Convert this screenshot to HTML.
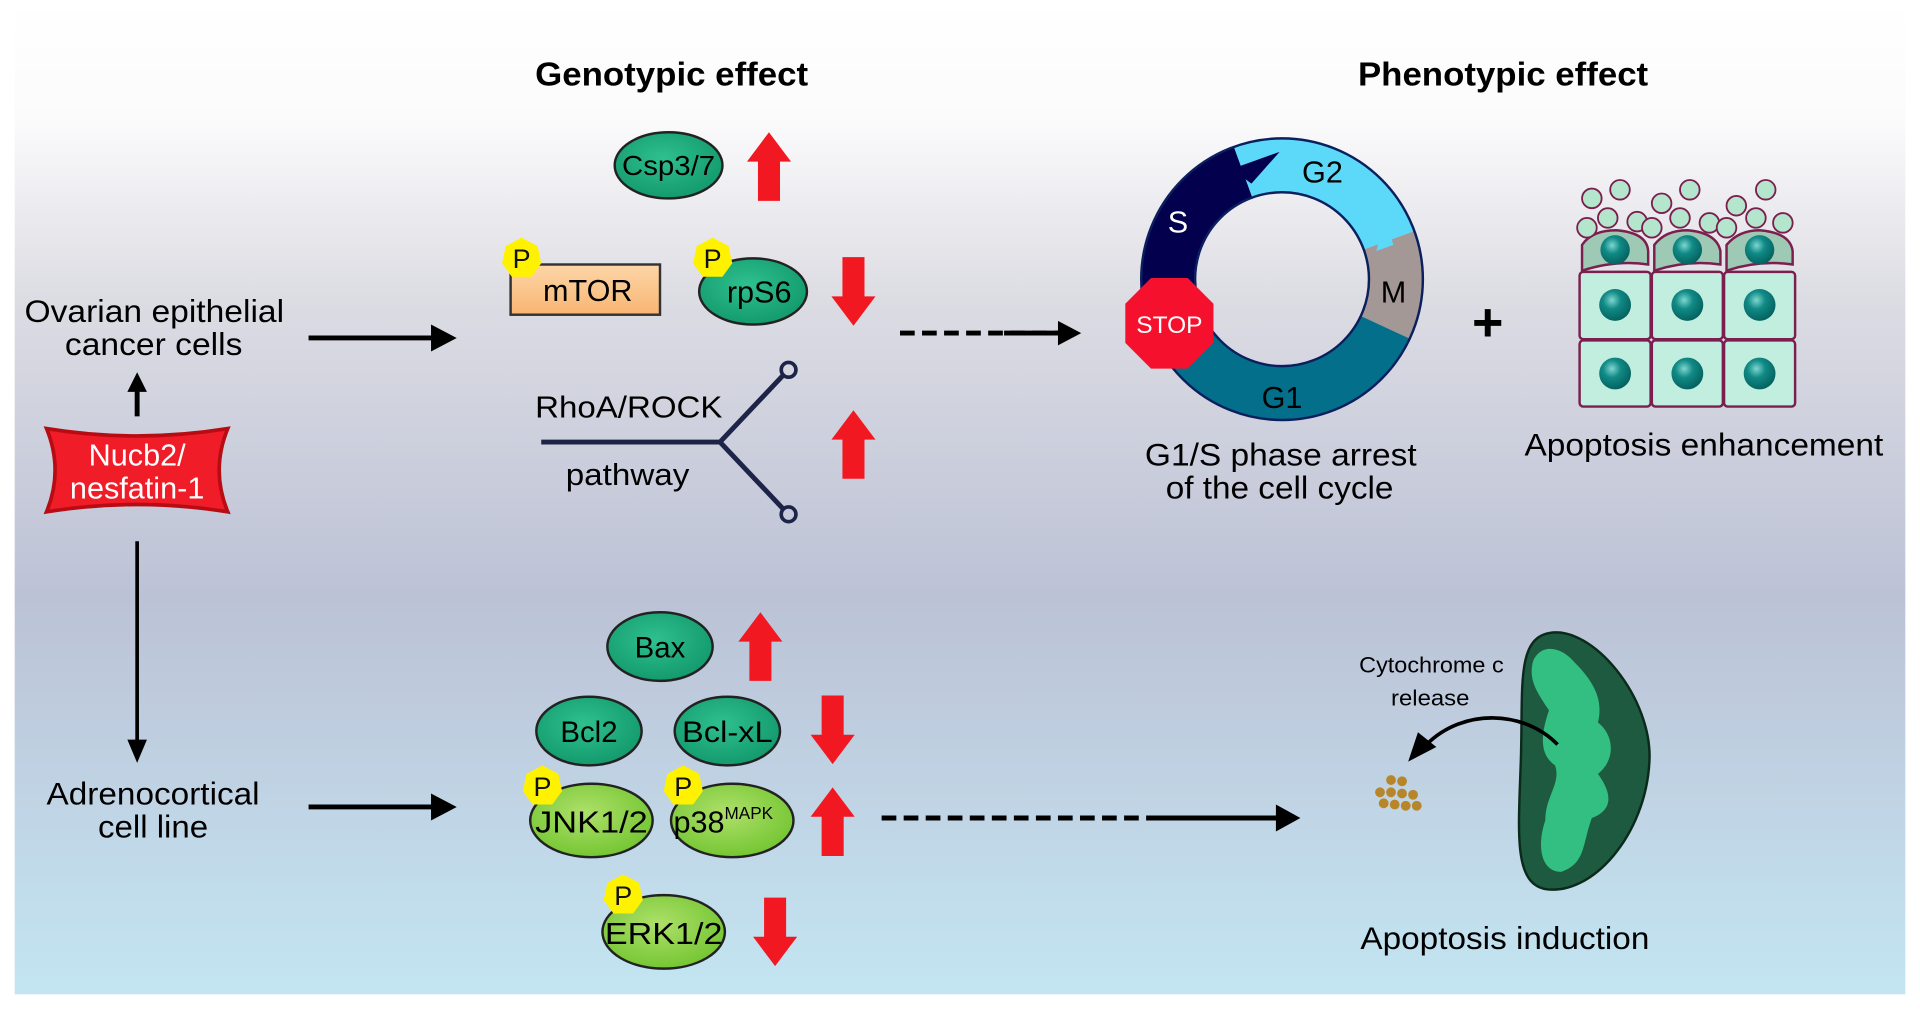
<!DOCTYPE html>
<html><head><meta charset="utf-8"><style>
html,body{margin:0;padding:0;background:#fff;}
svg{display:block;}
text{font-family:"Liberation Sans",sans-serif;}
</style></head><body>
<svg width="1920" height="1011" viewBox="0 0 1568 825.6" preserveAspectRatio="none" xmlns="http://www.w3.org/2000/svg">
<defs>
<linearGradient id="bg" x1="0" y1="0" x2="0" y2="1">
<stop offset="0" stop-color="#ffffff"/>
<stop offset="0.12" stop-color="#fbfbfc"/>
<stop offset="0.3" stop-color="#dcdce3"/>
<stop offset="0.6" stop-color="#bcc2d6"/>
<stop offset="1" stop-color="#c3e5f2"/>
</linearGradient>
<radialGradient id="gr" cx="0.45" cy="0.4" r="0.7"><stop offset="0" stop-color="#2fc08e"/><stop offset="1" stop-color="#0f9468"/></radialGradient>
<radialGradient id="lg" cx="0.45" cy="0.4" r="0.7"><stop offset="0" stop-color="#aee06a"/><stop offset="1" stop-color="#6cc22a"/></radialGradient>
<linearGradient id="or" x1="0" y1="0" x2="0" y2="1"><stop offset="0" stop-color="#fdd6a8"/><stop offset="1" stop-color="#f8b572"/></linearGradient>
<radialGradient id="nuc" cx="0.4" cy="0.35" r="0.7"><stop offset="0" stop-color="#7fd6d0"/><stop offset="0.4" stop-color="#118a86"/><stop offset="1" stop-color="#035e5c"/></radialGradient>
<g id="up"><path d="M0,0 L18,24 L9,24 L9,56 L-9,56 L-9,24 L-18,24 Z" fill="#f21822"/></g>
<g id="dn"><path d="M0,56 L18,32 L9,32 L9,0 L-9,0 L-9,32 L-18,32 Z" fill="#f21822"/></g>
<g id="P"><polygon points="0,-17 13,-10 16,4 8,15 -8,15 -16,4 -13,-10" fill="#fff200"/><text x="0" y="8" font-size="22" text-anchor="middle" fill="#111">P</text></g>
</defs>
<rect x="12" y="0" width="1544" height="812" fill="url(#bg)"/>

<text x="437" y="70" font-size="27" font-weight="bold" textLength="223" lengthAdjust="spacingAndGlyphs">Genotypic effect</text>
<text x="1109" y="70" font-size="27" font-weight="bold" textLength="237" lengthAdjust="spacingAndGlyphs">Phenotypic effect</text>

<!-- left side -->
<text x="20" y="263" font-size="26" textLength="212" lengthAdjust="spacingAndGlyphs">Ovarian epithelial</text>
<text x="53" y="290" font-size="26" textLength="145" lengthAdjust="spacingAndGlyphs">cancer cells</text>
<line x1="112" y1="340" x2="112" y2="318" stroke="#000" stroke-width="4"/>
<path d="M112,304 L120,320 L104,320 Z"/>
<path d="M38,350 Q112,362 186,350 Q172,384 186,418 Q112,406 38,418 Q52,384 38,350 Z" fill="#f01c28" stroke="#b80c14" stroke-width="3"/>
<text x="112" y="380" font-size="25" fill="#fff" text-anchor="middle">Nucb2/</text>
<text x="112" y="407" font-size="25" fill="#fff" text-anchor="middle">nesfatin-1</text>
<line x1="112" y1="442" x2="112" y2="605" stroke="#000" stroke-width="3"/>
<path d="M112,623 L104,604 L120,604 Z"/>
<text x="38" y="657" font-size="26" textLength="174" lengthAdjust="spacingAndGlyphs">Adrenocortical</text>
<text x="80" y="684" font-size="26" textLength="90" lengthAdjust="spacingAndGlyphs">cell line</text>

<line x1="252" y1="276" x2="355" y2="276" stroke="#000" stroke-width="4"/>
<path d="M373,276 L352,265 L352,287 Z"/>
<line x1="252" y1="659" x2="355" y2="659" stroke="#000" stroke-width="4"/>
<path d="M373,659 L352,648 L352,670 Z"/>

<!-- top genotypic -->
<ellipse cx="546" cy="135" rx="44" ry="27" fill="url(#gr)" stroke="#222" stroke-width="2"/>
<text x="546" y="143" font-size="23" text-anchor="middle" textLength="76" lengthAdjust="spacingAndGlyphs">Csp3/7</text>
<use href="#up" x="628" y="108"/>

<rect x="417" y="216" width="122" height="41" fill="url(#or)" stroke="#333" stroke-width="2"/>
<text x="480" y="246" font-size="25" text-anchor="middle">mTOR</text>
<use href="#P" x="426" y="211"/>
<ellipse cx="615" cy="238" rx="44" ry="27" fill="url(#gr)" stroke="#222" stroke-width="2"/>
<text x="620" y="247" font-size="25" text-anchor="middle">rpS6</text>
<use href="#P" x="582" y="211"/>
<use href="#dn" x="697" y="210"/>

<text x="437" y="341" font-size="25" textLength="153" lengthAdjust="spacingAndGlyphs">RhoA/ROCK</text>
<text x="462" y="396" font-size="25" textLength="101" lengthAdjust="spacingAndGlyphs">pathway</text>
<path d="M442,361 L588,361 L640,306 M588,361 L640,416" stroke="#1d2447" stroke-width="4" fill="none"/>
<circle cx="644" cy="302" r="6" fill="none" stroke="#1d2447" stroke-width="3"/>
<circle cx="644" cy="420" r="6" fill="none" stroke="#1d2447" stroke-width="3"/>
<use href="#up" x="697" y="335"/>

<line x1="735" y1="272" x2="866" y2="272" stroke="#000" stroke-width="4" stroke-dasharray="12,6"/>
<line x1="820" y1="272" x2="866" y2="272" stroke="#000" stroke-width="4"/>
<path d="M883,272 L864,262 L864,282 Z"/>

<!-- bottom genotypic -->
<ellipse cx="539" cy="528" rx="43" ry="28" fill="url(#gr)" stroke="#222" stroke-width="2"/>
<text x="539" y="537" font-size="24" text-anchor="middle">Bax</text>
<use href="#up" x="621" y="500"/>
<ellipse cx="481" cy="597" rx="43" ry="28" fill="url(#gr)" stroke="#222" stroke-width="2"/>
<text x="481" y="606" font-size="24" text-anchor="middle">Bcl2</text>
<ellipse cx="594" cy="597" rx="43" ry="28" fill="url(#gr)" stroke="#222" stroke-width="2"/>
<text x="594" y="606" font-size="24" text-anchor="middle" textLength="74" lengthAdjust="spacingAndGlyphs">Bcl-xL</text>
<use href="#dn" x="680" y="568"/>

<ellipse cx="483" cy="670" rx="50" ry="30" fill="url(#lg)" stroke="#222" stroke-width="2"/>
<text x="483" y="680" font-size="25" text-anchor="middle" textLength="92" lengthAdjust="spacingAndGlyphs">JNK1/2</text>
<use href="#P" x="443" y="642"/>
<ellipse cx="598" cy="670" rx="50" ry="30" fill="url(#lg)" stroke="#222" stroke-width="2"/>
<text x="550" y="680" font-size="25">p38<tspan font-size="14" dy="-11">MAPK</tspan></text>
<use href="#P" x="558" y="642"/>
<use href="#up" x="680" y="643"/>

<ellipse cx="542" cy="761" rx="50" ry="30" fill="url(#lg)" stroke="#222" stroke-width="2"/>
<text x="542" y="771" font-size="25" text-anchor="middle" textLength="96" lengthAdjust="spacingAndGlyphs">ERK1/2</text>
<use href="#P" x="509" y="731"/>
<use href="#dn" x="633" y="733"/>

<line x1="720" y1="668" x2="1045" y2="668" stroke="#000" stroke-width="4" stroke-dasharray="12,6"/>
<line x1="940" y1="668" x2="1045" y2="668" stroke="#000" stroke-width="4"/>
<path d="M1062,668 L1042,657 L1042,679 Z"/>

<!-- cell cycle -->
<g fill="none" stroke-width="43">
<path d="M955.4,244.2 A93,93 0 0 1 1015.2,140.6" stroke="#03004d"/>
<path d="M1015.2,140.6 A93,93 0 0 1 1134.4,196.2" stroke="#5cd8f8"/>
<path d="M1134.4,196.2 A93,93 0 0 1 1131.3,267.3" stroke="#a39896"/>
<path d="M1131.3,267.3 A93,93 0 0 1 955.4,244.2" stroke="#046f8a"/>
</g>
<path d="M1006,138 L1045,124 L1022,150 Z" fill="#03004d"/>
<path d="M1131,178 L1124,205 L1138,200 Z" fill="#5cd8f8"/>
<circle cx="1047" cy="228" r="115" fill="none" stroke="#0b1f5e" stroke-width="2"/>
<circle cx="1047" cy="228" r="71" fill="none" stroke="#0b1f5e" stroke-width="2"/>
<text x="962" y="190" font-size="25" fill="#fff" text-anchor="middle">S</text>
<text x="1080" y="149" font-size="25" text-anchor="middle">G2</text>
<text x="1138" y="247" font-size="25" text-anchor="middle">M</text>
<text x="1047" y="333" font-size="25" text-anchor="middle">G1</text>
<polygon points="940,227 970,227 991,248 991,280 970,301 940,301 919,280 919,248" fill="#f5112e"/>
<text x="955" y="272" font-size="20" fill="#fff" text-anchor="middle">STOP</text>
<text x="935" y="380" font-size="26" textLength="222" lengthAdjust="spacingAndGlyphs">G1/S phase arrest</text>
<text x="952" y="407" font-size="26" textLength="186" lengthAdjust="spacingAndGlyphs">of the cell cycle</text>

<text x="1215" y="278" font-size="44" font-weight="bold" text-anchor="middle">+</text>

<!-- cells -->
<g stroke="#7b1f4e" stroke-width="2" fill="#c2eedf">
<rect x="1290" y="278" width="58" height="54" rx="3"/>
<rect x="1349" y="278" width="58" height="54" rx="3"/>
<rect x="1408" y="278" width="58" height="54" rx="3"/>
<rect x="1290" y="222" width="58" height="55" rx="3"/>
<rect x="1349" y="222" width="58" height="55" rx="3"/>
<rect x="1408" y="222" width="58" height="55" rx="3"/>
</g>
<g fill="#9ec9b4" stroke="#7b1f4e" stroke-width="2">
<path d="M1292,221 L1292,200 Q1300,188 1320,188 Q1345,190 1346,205 L1346,216 Q1320,212 1292,221 Z"/>
<path d="M1351,221 L1351,200 Q1360,188 1378,188 Q1402,190 1405,205 L1405,216 Q1378,212 1351,221 Z"/>
<path d="M1410,221 L1410,200 Q1420,188 1437,188 Q1462,190 1464,205 L1464,216 Q1437,212 1410,221 Z"/>
</g>
<g fill="url(#nuc)">
<circle cx="1319" cy="305" r="13"/><circle cx="1378" cy="305" r="13"/><circle cx="1437" cy="305" r="13"/>
<circle cx="1319" cy="249" r="13"/><circle cx="1378" cy="249" r="13"/><circle cx="1437" cy="249" r="13"/>
<circle cx="1319" cy="204" r="12"/><circle cx="1378" cy="204" r="12"/><circle cx="1437" cy="204" r="12"/>
</g>
<g fill="#b3e6cc" stroke="#7b1f4e" stroke-width="1.5">
<circle cx="1300" cy="162" r="8"/><circle cx="1323" cy="155" r="8"/><circle cx="1296" cy="186" r="8"/><circle cx="1313" cy="178" r="8"/><circle cx="1337" cy="181" r="8"/><circle cx="1349" cy="186" r="8"/>
<circle cx="1357" cy="166" r="8"/><circle cx="1380" cy="155" r="8"/><circle cx="1372" cy="178" r="8"/><circle cx="1396" cy="182" r="8"/><circle cx="1410" cy="186" r="8"/>
<circle cx="1418" cy="168" r="8"/><circle cx="1442" cy="155" r="8"/><circle cx="1434" cy="178" r="8"/><circle cx="1456" cy="182" r="8"/>
</g>
<text x="1245" y="372" font-size="26" textLength="293" lengthAdjust="spacingAndGlyphs">Apoptosis enhancement</text>

<!-- mitochondrion -->
<path d="M1265,517 C1300,510 1350,570 1347,622 C1344,682 1300,732 1262,726 C1236,721 1240,680 1242,622 C1244,562 1238,522 1265,517 Z" fill="#1d5a40" stroke="#0b2a1c" stroke-width="2"/>
<path d="M1252,540 C1258,525 1275,528 1285,540 C1300,555 1310,570 1305,590 C1318,600 1320,620 1305,632 C1318,650 1316,662 1300,668 C1292,690 1295,705 1275,712 C1258,712 1255,690 1262,670 C1262,650 1275,640 1270,625 C1255,615 1260,595 1265,580 C1255,565 1248,555 1252,540 Z" fill="#36c98a" opacity="0.9"/>
<text x="1110" y="549" font-size="18" textLength="118" lengthAdjust="spacingAndGlyphs">Cytochrome c</text>
<text x="1136" y="576" font-size="18" textLength="64" lengthAdjust="spacingAndGlyphs">release</text>
<path d="M1272,608 C1245,580 1195,578 1165,608" fill="none" stroke="#000" stroke-width="3"/>
<path d="M1150,622 L1158,598 L1173,610 Z"/>
<g fill="#b7862a">
<circle cx="1136" cy="637" r="4"/><circle cx="1145" cy="638" r="4"/>
<circle cx="1127" cy="647" r="4"/><circle cx="1136" cy="647" r="4"/><circle cx="1145" cy="648" r="4"/><circle cx="1154" cy="649" r="4"/>
<circle cx="1130" cy="656" r="4"/><circle cx="1139" cy="657" r="4"/><circle cx="1148" cy="658" r="4"/><circle cx="1157" cy="658" r="4"/>
</g>
<text x="1111" y="775" font-size="26" textLength="236" lengthAdjust="spacingAndGlyphs">Apoptosis induction</text>
</svg>
</body></html>
